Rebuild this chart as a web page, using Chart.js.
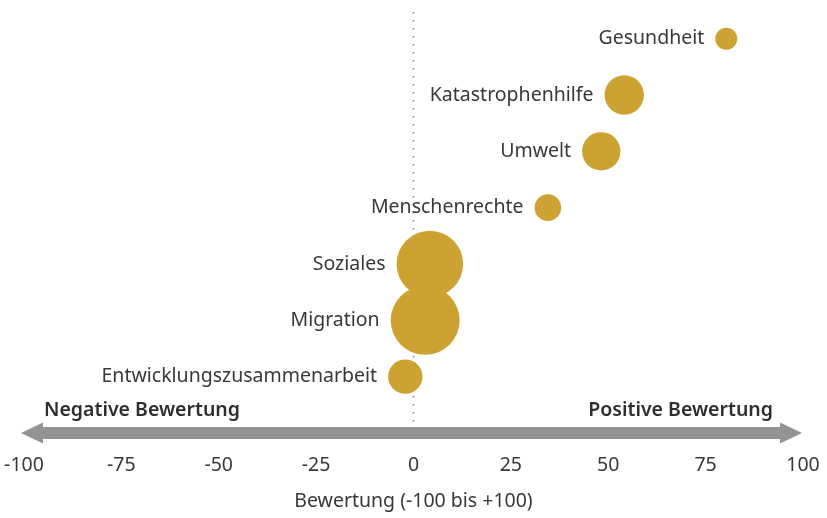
<!DOCTYPE html>
<html>
<head>
<meta charset="utf-8">
<script src="https://cdn.jsdelivr.net/npm/chart.js@4"></script>
<style>
  html, body { margin: 0; padding: 0; background: #fff; }
  #wrap { width: 827px; height: 518px; }
</style>
</head>
<body>
<div id="wrap"><canvas id="grafico" width="827" height="518"></canvas></div>
<script>
// Daten (von unten nach oben)
const bereiche = ['Entwicklungszusammenarbeit', 'Migration', 'Soziales', 'Menschenrechte', 'Umwelt', 'Katastrophenhilfe', 'Gesundheit'];
const bewertung = [-2.1, 3.0, 4.2, 34.5, 48.2, 54.1, 80.3];
const groesse = [17.2, 34.5, 33.3, 13.3, 19.2, 19.7, 11];
const xTicks = [-100, -75, -50, -25, 0, 25, 50, 75, 100];
const pfeilLinks = 'Negative Bewertung';
const pfeilRechts = 'Positive Bewertung';
const achsenTitel = 'Bewertung (-100 bis +100)';

const gold = '#cca233';
const grau = '#939393';
const textFarbe = '#383838';
const schrift = '"Noto Sans", sans-serif';
const fs = 19.5;

const punkte = bereiche.map((b, i) => ({ x: bewertung[i], y: i, r: groesse[i] }));

// Blasen sollen keinen zusaetzlichen Rand erzwingen
Chart.registry.getController('bubble').prototype.getMaxOverflow = function () { return 0; };

// eigene Zeichnungen: Nulllinie, Pfeil, Beschriftungen
const extras = {
  id: 'extras',
  beforeDatasetsDraw(chart) {
    const ctx = chart.ctx;
    const x0 = chart.scales.x.getPixelForValue(0);
    ctx.save();
    ctx.strokeStyle = '#8c8c8c';
    ctx.lineWidth = 1.6;
    ctx.setLineDash([1.6, 6.4]);
    ctx.beginPath();
    ctx.moveTo(x0, 12);
    ctx.lineTo(x0, 424);
    ctx.stroke();
    ctx.restore();

    // Doppelpfeil
    const y = 433, l = 21, r = 802, kopf = 22, h = 10.5, s = 6;
    ctx.save();
    ctx.fillStyle = grau;
    ctx.beginPath();
    ctx.moveTo(l, y);
    ctx.lineTo(l + kopf, y - h);
    ctx.lineTo(l + kopf, y - s);
    ctx.lineTo(r - kopf, y - s);
    ctx.lineTo(r - kopf, y - h);
    ctx.lineTo(r, y);
    ctx.lineTo(r - kopf, y + h);
    ctx.lineTo(r - kopf, y + s);
    ctx.lineTo(l + kopf, y + s);
    ctx.lineTo(l + kopf, y + h);
    ctx.closePath();
    ctx.fill();

    ctx.fillStyle = '#2e2e2e';
    ctx.font = '600 ' + fs + 'px ' + schrift;
    ctx.textBaseline = 'middle';
    ctx.textAlign = 'left';
    ctx.fillText(pfeilLinks, 44, 410);
    ctx.textAlign = 'right';
    ctx.fillText(pfeilRechts, 773, 410);
    ctx.restore();
  },
  afterDatasetsDraw(chart) {
    const ctx = chart.ctx;
    const meta = chart.getDatasetMeta(0);
    ctx.save();
    ctx.fillStyle = textFarbe;
    ctx.font = fs + 'px ' + schrift;
    ctx.textAlign = 'right';
    ctx.textBaseline = 'middle';
    meta.data.forEach((el, i) => {
      const rad = el.options.radius;
      ctx.fillText(bereiche[i], el.x - rad - 11, el.y);
    });
    ctx.restore();
  }
};

new Chart(document.getElementById('grafico'), {
  type: 'bubble',
  data: {
    datasets: [{
      data: punkte,
      backgroundColor: gold,
      borderColor: gold,
      borderWidth: 0,
      hoverRadius: 0
    }]
  },
  options: {
    responsive: false,
    animation: false,
    events: [],
    layout: { padding: { left: 22, right: 24, top: 10.5, bottom: 4.5 } },
    plugins: {
      legend: { display: false },
      tooltip: { enabled: false }
    },
    scales: {
      x: {
        type: 'linear',
        min: -100,
        max: 100,
        afterBuildTicks(scale) {
          scale.ticks = xTicks.map(v => ({ value: v }));
        },
        grid: { display: false, drawTicks: false },
        border: { display: false },
        ticks: {
          color: textFarbe,
          font: { family: schrift, size: fs },
          padding: 4.1,
          maxRotation: 0,
          callback: v => String(v)
        },
        title: {
          display: true,
          text: achsenTitel,
          color: textFarbe,
          font: { family: schrift, size: fs },
          padding: { top: 8.6, bottom: 0 }
        }
      },
      y: {
        type: 'linear',
        min: -1.3,
        max: 6.5,
        display: false
      }
    }
  },
  plugins: [extras]
});
</script>
</body>
</html>
